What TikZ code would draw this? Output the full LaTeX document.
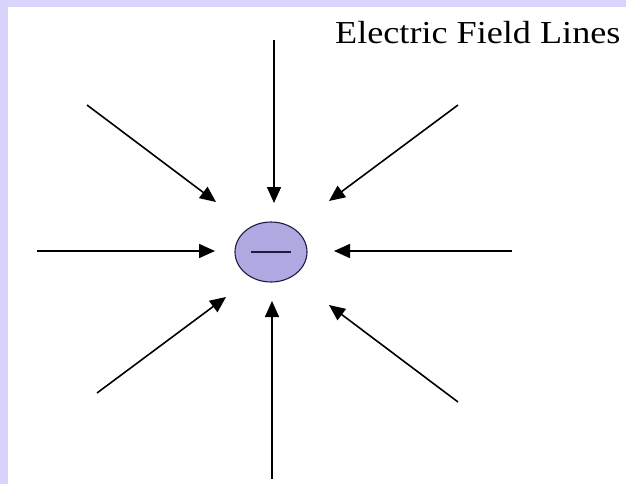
\documentclass[tikz,border=0pt]{standalone}
\usepackage{fontspec}
\setmainfont{Liberation Serif}
\usetikzlibrary{shapes.geometric,arrows.meta}

\definecolor{framelav}{RGB}{216,212,252}
\definecolor{chargefill}{RGB}{176,168,224}
\definecolor{chargeline}{RGB}{30,28,70}

\tikzset{
  fieldline/.style={-{Triangle[length=16pt,width=14pt]}, line width=1.6pt},
  charge/.style={ellipse, draw=chargeline, line width=1.1pt, fill=chargefill,
                 minimum width=72pt, minimum height=60pt, inner sep=0pt},
}

\begin{document}
\begin{tikzpicture}[x=1pt,y=-1pt]

% frame
\fill[framelav] (0,0) rectangle (626,484);
\fill[white] (8,7) rectangle (626,484);
\useasboundingbox (0,0) rectangle (626,484);

% the charge
\node[charge] (q) at (271,252) {};
\draw[line width=1.6pt, chargeline] ([xshift=-20pt]q.center) -- ([xshift=20pt]q.center);

% start and tip of each line
\coordinate (nS) at (274,40);   \coordinate (nT) at (274,203);
\coordinate (nwS) at (87,105);  \coordinate (nwT) at (216,202);
\coordinate (neS) at (458,105); \coordinate (neT) at (329,201);
\coordinate (wS) at (37,251);   \coordinate (wT) at (215,251);
\coordinate (eS) at (512,251);  \coordinate (eT) at (334,251);
\coordinate (swS) at (97,393);  \coordinate (swT) at (226,297);
\coordinate (sS) at (272,479);  \coordinate (sT) at (272,301);
\coordinate (seS) at (458,402); \coordinate (seT) at (329,305);

\draw[fieldline] (nS) -- (nT);
\draw[fieldline] (nwS) -- (nwT);
\draw[fieldline] (neS) -- (neT);
\draw[fieldline] (wS) -- (wT);
\draw[fieldline] (eS) -- (eT);
\draw[fieldline] (swS) -- (swT);
\draw[fieldline] (sS) -- (sT);
\draw[fieldline] (seS) -- (seT);

% label
\node[anchor=base west, inner sep=0pt, font=\fontsize{32}{34}\selectfont,
      xscale=1.13, transform shape] (lbl) at (335,44) {Electric Field Lines};

\end{tikzpicture}
\end{document}
